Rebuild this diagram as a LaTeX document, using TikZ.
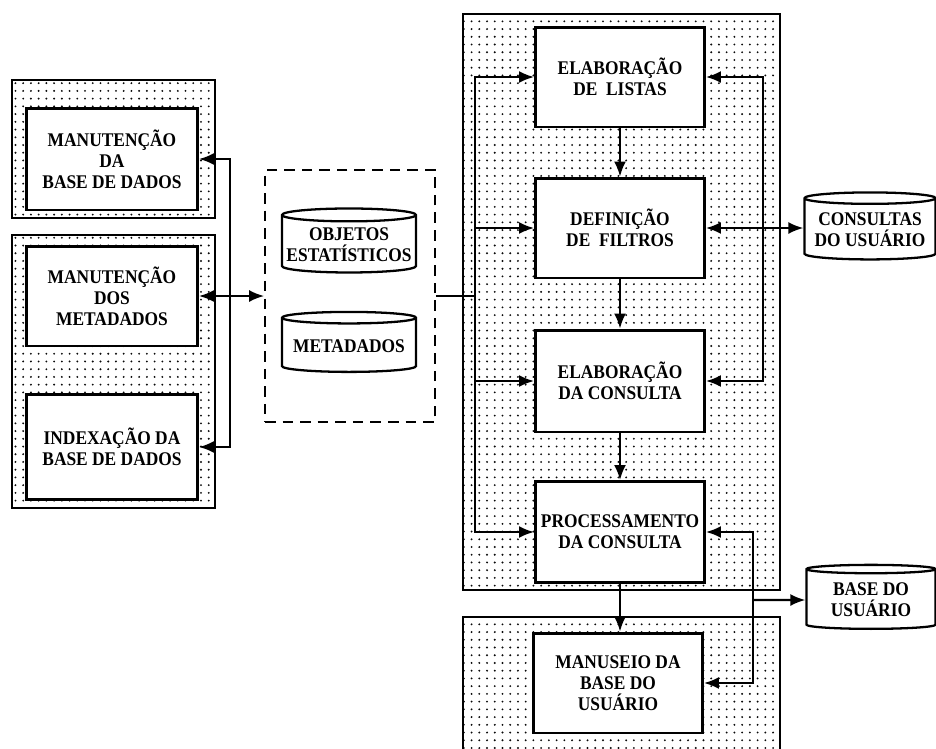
\documentclass[tikz,border=0pt]{standalone}
\usepackage{fontspec}
\setmainfont[FakeStretch=0.9]{Liberation Serif}
\usepackage{tikz}
\usepackage{xcolor}
\definecolor{dotgrey}{RGB}{10,10,10}
\usetikzlibrary{arrows.meta,positioning,shapes.geometric,patterns.meta,backgrounds}
\tikzset{
  box/.style={draw=black,line width=1.7pt,fill=white,align=center,inner sep=3pt,font=\fontsize{11}{12}\selectfont\bfseries},
  cyl/.style={cylinder,shape border rotate=90,aspect=0.1,draw=black,line width=1.3pt,fill=white,align=center,inner sep=1pt,font=\fontsize{11}{12}\selectfont\bfseries},
  panel/.style={draw=black,line width=1.1pt,pattern={Dots[distance=4.4pt,radius=0.6pt]},pattern color=dotgrey},
  dbox/.style={draw=black,line width=1pt,dash pattern=on 6pt off 4pt},
  arr/.style={-{Latex[length=3mm,width=2.4mm]},line width=1.2pt},
  dbl/.style={{Latex[length=3mm,width=2.4mm]}-{Latex[length=3mm,width=2.4mm]},line width=1.2pt},
  line/.style={line width=1.2pt},
}

\begin{document}
\begin{tikzpicture}[x=0.02cm,y=-0.02cm]
    \fill[white] (0,0) rectangle (936,748);
    \useasboundingbox (0,0) rectangle (936,748);
    % dotted panels
    \draw[panel] (12,80) rectangle (215,218);
    \draw[panel] (12,235) rectangle (215,508);
    \draw[panel] (463,14) rectangle (780,590);
    \draw[panel] (463,617) rectangle (780,752);
    % left column
    \node[box,minimum width=3.42cm,minimum height=2.04cm] (mb) at (112,159) {MANUTENÇÃO\\DA\\BASE DE DADOS};
    \node[box,minimum width=3.42cm,minimum height=2.0cm] (mm) at (112,296) {MANUTENÇÃO\\DOS\\METADADOS};
    \node[box,minimum width=3.42cm,minimum height=2.1cm] (ib) at (112,447) {INDEXAÇÃO DA\\BASE DE DADOS};
    % stores
    \node[dbox,minimum width=3.4cm,minimum height=5.04cm] (dc) at (350,296) {};
    \node[cyl,minimum width=2.68cm,minimum height=1.28cm] (ob) at (349,245) {OBJETOS\\ESTATÍSTICOS};
    \node[cyl,minimum width=2.68cm,minimum height=1.2cm] (md) at (349,346) {METADADOS};
    % right column
    \node[box,minimum width=3.38cm,minimum height=2.0cm] (el) at (620,77) {ELABORAÇÃO\\DE~~LISTAS};
    \node[box,minimum width=3.38cm,minimum height=2.0cm] (df) at (620,228) {DEFINIÇÃO\\DE~~FILTROS};
    \node[box,minimum width=3.38cm,minimum height=2.04cm] (ec) at (620,381) {ELABORAÇÃO\\DA CONSULTA};
    \node[box,minimum width=3.38cm,minimum height=2.02cm] (pc) at (620,532) {PROCESSAMENTO\\DA CONSULTA};
    \node[box,minimum width=3.38cm,minimum height=2.0cm] (mu) at (618,683) {MANUSEIO DA\\BASE DO\\USUÁRIO};
    \node[cyl,minimum width=2.62cm,minimum height=1.34cm] (cu) at (870,230) {CONSULTAS\\DO USUÁRIO};
    \node[cyl,minimum width=2.58cm,minimum height=1.28cm] (bu) at (871,600) {BASE DO\\USUÁRIO};
    % bus points
    \coordinate (busL) at (230,296);
    \coordinate (busR) at (475,296);
    \coordinate (busC) at (763,228);
    \coordinate (busB) at (753,600);
    % connectors
    \draw[arr] (busL) |- (mb.east);
    \draw[arr] (busL) |- (ib.east);
    \draw[dbl] (mm.east) -- (dc.west);
    \draw[line] (dc.east) -- (busR);
    \foreach \n in {el,df,ec,pc}
      \draw[arr] (busR) |- (\n.west);
    \foreach \n in {el,ec}
      \draw[arr] (busC) |- (\n.east);
    \draw[dbl] (df.east) -- (df.east -| cu.west);
    \draw[arr] (el.south) -- (df.north);
    \draw[arr] (df.south) -- (ec.north);
    \draw[arr] (ec.south) -- (pc.north);
    \draw[arr] (pc.south) -- (pc.south |- mu.north);
    \draw[arr] (busB) |- (pc.east);
    \draw[arr] (busB) |- (mu.east);
    \draw[arr] (busB) -- (bu.west);
  \end{tikzpicture}
\end{document}
